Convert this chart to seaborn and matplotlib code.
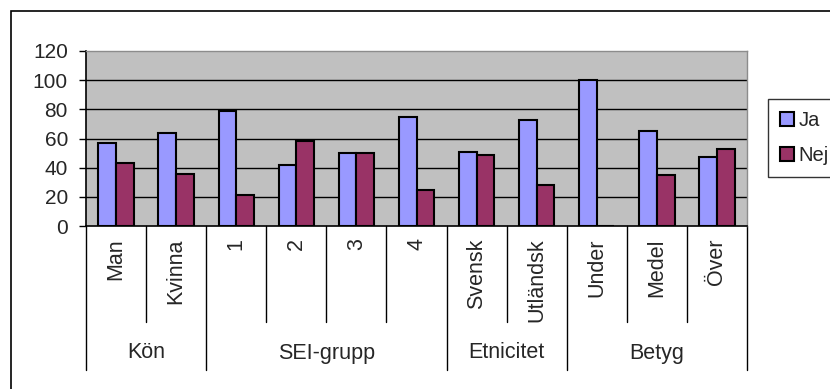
import matplotlib
matplotlib.use("Agg")
import matplotlib.pyplot as plt
import matplotlib.transforms as mtransforms
from matplotlib.patches import Rectangle
import seaborn as sns
import pandas as pd

# Survey answers (percent) per background category
categories = ["Man", "Kvinna", "1", "2", "3", "4", "Svensk", "Utländsk",
              "Under", "Medel", "Över"]
ja_values = [57, 64, 79, 42, 50, 75, 51, 73, 100, 65, 47]
nej_values = [43, 36, 21, 58, 50, 25, 49, 28, 0, 35, 53]
series_names = ["Ja", "Nej"]

# Category groups: (label, number of categories in the group)
groups = [("Kön", 2), ("SEI-grupp", 4), ("Etnicitet", 2), ("Betyg", 3)]

y_ticks = [0, 20, 40, 60, 80, 100, 120]

df = pd.DataFrame({
    "kategori": categories * 2,
    "svar": [series_names[0]] * len(categories) + [series_names[1]] * len(categories),
    "andel": ja_values + nej_values,
})

sns.set_style("white")
plt.rcParams["font.family"] = ["Liberation Sans", "DejaVu Sans"]

W, H = 830, 389
fig = plt.figure(figsize=(W / 100, H / 100), dpi=100)
ax = fig.add_axes([86 / W, 1 - 226 / H, (747 - 86) / W, (226 - 51) / H])
ax.set_facecolor("#C0C0C0")

sns.barplot(data=df, x="kategori", y="andel", hue="svar", order=categories,
            hue_order=series_names, palette=["#9999FF", "#993366"],
            width=0.59, edgecolor="black", linewidth=1.5, saturation=1,
            ax=ax, zorder=3)

ax.set_xlim(-0.5, len(categories) - 0.5)
ax.set_ylim(0, 120)
ax.set_yticks(y_ticks)
ax.set_yticklabels([str(t) for t in y_ticks], fontsize=15)
ax.tick_params(axis="y", direction="out", length=5, width=1, color="black", pad=8, left=True)
for t in y_ticks[1:-1]:
    ax.axhline(t, color="black", linewidth=1, zorder=1)

ax.set_xlabel("")
ax.set_ylabel("")
ax.set_xticks(range(len(categories)))
ax.set_xticklabels(categories, rotation=90, fontsize=15.5)
ax.tick_params(axis="x", length=0, pad=9)

for side in ["left", "bottom"]:
    ax.spines[side].set_color("black")
    ax.spines[side].set_linewidth(1.2)
for side in ["top", "right"]:
    ax.spines[side].set_color("#8C8C8C")
    ax.spines[side].set_linewidth(1)

# Separators and group labels below the category axis
trans = mtransforms.blended_transform_factory(ax.transData, fig.transFigure)
y_axis = 1 - 226 / H
y_cat = 1 - 322 / H
y_grp = 1 - 370 / H
y_grp_label = 1 - 353 / H

start = 0
group_edges = [-0.5]
for label, n in groups:
    for k in range(1, n):
        ax.plot([start + k - 0.5] * 2, [y_axis, y_cat], transform=trans,
                color="black", linewidth=1, clip_on=False)
    center = start + (n - 1) / 2
    ax.text(center, y_grp_label, label, transform=trans, ha="center",
            va="center", fontsize=15.5)
    start += n
    group_edges.append(start - 0.5)
for e in group_edges:
    ax.plot([e, e], [y_axis, y_grp], transform=trans, color="black",
            linewidth=1, clip_on=False)

# Legend on the right
handles, labels = ax.get_legend_handles_labels()
leg = ax.legend(handles, labels, loc="upper left",
                bbox_to_anchor=(768 / W, 1 - 99 / H), bbox_transform=fig.transFigure,
                fontsize=14.5, frameon=True, fancybox=False, handlelength=0.7,
                handleheight=0.7, handletextpad=0.2, borderpad=0.6,
                labelspacing=0.8, borderaxespad=0)
leg.get_frame().set_edgecolor("black")
leg.get_frame().set_linewidth(1)
for patch in leg.get_patches():
    patch.set_linewidth(1.5)

# Chart area border
fig.patches.append(Rectangle((11 / W, -0.1), 1.2, 1 - 11 / H + 0.1,
                             transform=fig.transFigure, fill=False,
                             edgecolor="black", linewidth=1.2))

fig.savefig("out.png", dpi=100)
